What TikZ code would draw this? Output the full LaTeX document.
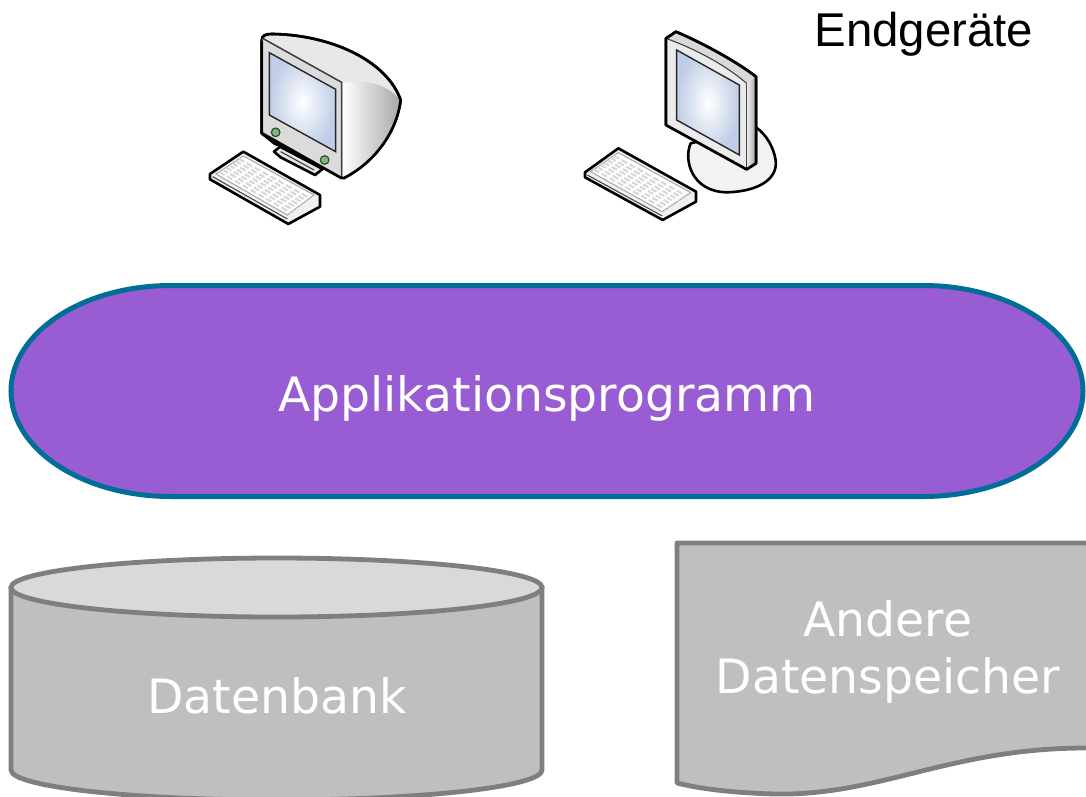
\documentclass[tikz,border=0pt]{standalone}
\usepackage{fontspec}
\usetikzlibrary{calc,shapes.geometric}
\setmainfont{Liberation Sans}
\newfontfamily\shapefont{DejaVu Sans}[Scale=1]
\definecolor{purplefill}{HTML}{985DD2}
\definecolor{tealline}{HTML}{006E96}
\definecolor{greyfill}{HTML}{BFBFBF}
\definecolor{greytop}{HTML}{D9D9D9}
\definecolor{greyline}{HTML}{7F7F7F}
\definecolor{screenblue}{HTML}{BFCDE6}
\tikzset{
  inkline/.style={draw=black,line width=2.6pt,line join=round},
  thinline/.style={draw=black!75,line width=1.1pt,line join=round},
  shapetext/.style={text=white,font=\shapefont\fontsize{47.3}{57}\selectfont,align=center,inner sep=0pt},
  storeline/.style={draw=greyline,line width=4.8pt,line join=round,fill=greyfill},
  zoomed/.style={x=0.3333pt,y=-0.3333pt},
}
\begin{document}
\begin{tikzpicture}[x=1pt,y=-1pt]
\useasboundingbox (0,0) rectangle (1086,796);
\clip (0,0) rectangle (1086,796);
% monitor 1 (coordinates of a 3x crop)
\begin{scope}[shift={(190,20)},zoomed]
  % body
  \path[inkline,fill=black!9] (215,65) .. controls (215,45) and (225,42) .. (250,42)
     .. controls (420,45) and (590,120) .. (632,240)
     .. controls (620,340) and (550,430) .. (460,475) -- (300,385) -- (255,372) -- (215,340) -- cycle;
  \shade[left color=white,right color=black!34] (457,190) .. controls (520,175) and (590,190) .. (630,240)
     .. controls (618,340) and (550,430) .. (460,472) -- cycle;
  \path[inkline] (215,65) .. controls (215,45) and (225,42) .. (250,42)
     .. controls (420,45) and (590,120) .. (632,240)
     .. controls (620,340) and (550,430) .. (460,475);
  % front
  \path[thinline,fill=black!14] (218,55) -- (455,187) -- (455,472) -- (218,338) -- cycle;
  \path[thinline,line width=1.4pt] (218,55) -- (455,187) -- (455,472);
  \path[inkline] (215,65) -- (215,340) -- (455,475);
  % screen
  \shade[inner color=white,outer color=screenblue,draw=black!85,line width=1.4pt]
     (238,98) -- (437,208) -- (437,395) -- (238,285) -- cycle;
  % stand
  \path[inkline,fill=black!10] (270,380) -- (252,395) -- (272,412) -- (375,465) -- (398,447) -- cycle;
  \path[thinline] (272,395) -- (372,450);
  % buttons
  \path[draw=black!75,line width=1.2pt,fill=green!55!black!55] (257,337) circle[radius=4.3pt];
  \path[draw=black!75,line width=1.2pt,fill=green!55!black!55] (404,420) circle[radius=4.3pt];
  % keyboard
  \path[inkline,fill=black!6] (60,462) -- (160,395) -- (390,525) -- (390,560) -- (295,612) -- (60,478) -- cycle;
  \path[draw=black!35,line width=1pt,fill=white] (78,462) -- (160,408) -- (372,525) -- (292,585) -- cycle;
  \foreach \t in {0.12,0.24,...,0.96}{
    \path[draw=black!16,line width=2pt,dash pattern=on 6pt off 3pt] ($(78,462)!\t!(160,408)$) -- ($(292,585)!\t!(372,525)$);
  }
  \path[draw=black!70,line width=1.1pt] (68,470) -- (292,597);
\end{scope}
% monitor 2
\begin{scope}[shift={(570,20)},zoomed]
  % base
  \path[inkline,fill=black!5] (362,370) .. controls (340,420) and (365,515) .. (470,517)
     .. controls (560,515) and (625,480) .. (617,420) .. controls (610,380) and (590,345) .. (558,322) -- cycle;
  % frame
  \path[inkline,fill=black!15] (288,55) -- (318,35) .. controls (400,70) and (500,125) .. (558,170)
     -- (558,430) -- (530,448) -- (288,315) -- cycle;
  \path[thinline,fill=black!8] (288,55) .. controls (370,85) and (460,130) .. (530,190) -- (530,448) -- (288,315) -- cycle;
  \shade[left color=black!8,right color=black!35] (532,190) -- (556,172) -- (556,428) -- (532,445) -- cycle;
  \path[inkline] (288,55) -- (318,35) .. controls (400,70) and (500,125) .. (558,170)
     -- (558,430) -- (530,448) -- (288,315) -- cycle;
  % screen
  \shade[inner color=white,outer color=screenblue,draw=black!85,line width=1.4pt]
     (320,90) -- (508,195) -- (508,405) -- (320,300) -- cycle;
  % keyboard
  \path[inkline,fill=black!6] (45,457) -- (145,385) -- (378,515) -- (378,545) -- (278,600) -- (45,472) -- cycle;
  \path[draw=black!35,line width=1pt,fill=white] (62,455) -- (145,398) -- (362,518) -- (277,575) -- cycle;
  \foreach \t in {0.12,0.24,...,0.96}{
    \path[draw=black!16,line width=2pt,dash pattern=on 6pt off 3pt] ($(62,455)!\t!(145,398)$) -- ($(277,575)!\t!(362,518)$);
  }
  \path[draw=black!70,line width=1.1pt] (52,465) -- (277,588);
\end{scope}
% Endgeraete
\node[anchor=base,inner sep=0pt,font=\fontsize{47.4}{50}\selectfont] (endg) at (924,46) {Endgeräte};
% application
\path[draw=tealline,line width=5pt,fill=purplefill] (171,285.5) arc[start angle=90,end angle=270,x radius=160pt,y radius=105.5pt]
   -- (923,496.5) arc[start angle=270,end angle=450,x radius=160pt,y radius=105.5pt] -- cycle;
\node[shapetext,anchor=base] (applabel) at (547,411) {Applikationsprogramm};
% database
\path[storeline] (11,587) -- (11,770) arc[start angle=180,end angle=360,x radius=265.5pt,y radius=30pt] -- (542,587) -- cycle;
\node[draw=greyline,line width=4.8pt,fill=greytop,ellipse,minimum width=531pt,minimum height=59pt,inner sep=0pt] (dbtop) at (276.5,587.5) {};
\node[shapetext,anchor=base] (dblabel) at (277,713) {Datenbank};
% other store
\path[storeline] (677,543) -- (1100,543) -- (1100,748) -- (1086,748) .. controls (950,748) and (880,796) .. (775,794) .. controls (740,793) and (705,790) .. (677,783) -- cycle;
\node[shapetext,anchor=base] (otherlabela) at (888,636) {Andere};
\node[shapetext,anchor=base] (otherlabelb) at (888,693) {Datenspeicher};
\end{tikzpicture}
\end{document}
